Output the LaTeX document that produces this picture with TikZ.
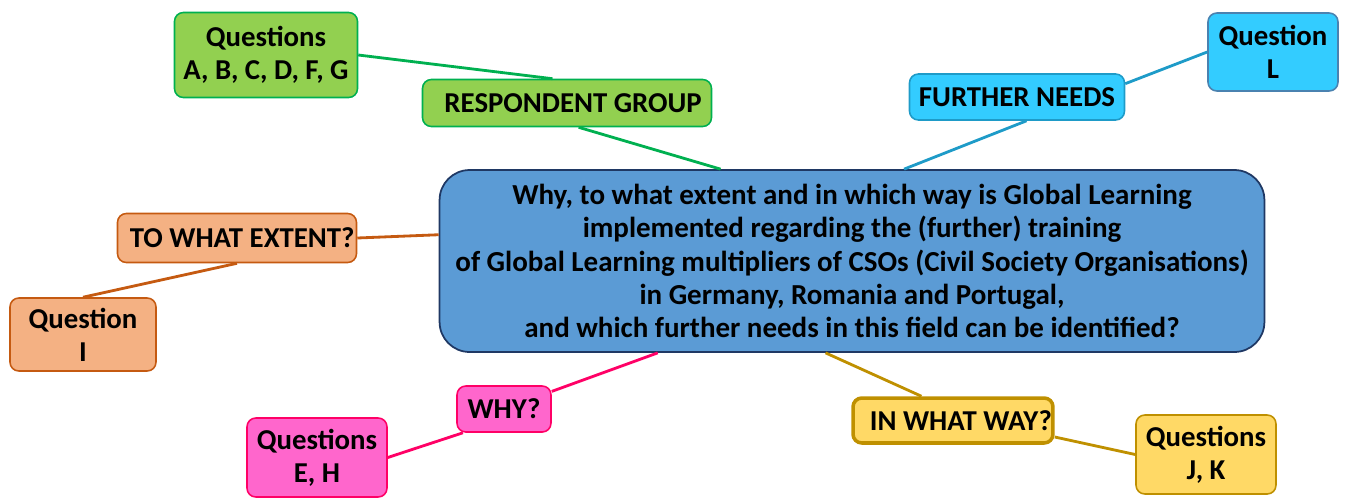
\documentclass[tikz,border=0pt]{standalone}
\usepackage{fontspec}
\setmainfont{Carlito}
\usetikzlibrary{calc}
\definecolor{grnfill}{HTML}{92D050}
\definecolor{grnline}{HTML}{00B050}
\definecolor{cyanfill}{HTML}{33CCFF}
\definecolor{cyanline}{HTML}{1E9BC8}
\definecolor{cyanedge}{HTML}{4A82B0}
\definecolor{mainfill}{HTML}{5B9BD5}
\definecolor{mainline}{HTML}{1F3864}
\definecolor{orgfill}{HTML}{F4B183}
\definecolor{orgline}{HTML}{C55A11}
\definecolor{pinkfill}{HTML}{FF66CC}
\definecolor{pinkline}{HTML}{FF0066}
\definecolor{goldfill}{HTML}{FFD966}
\definecolor{goldline}{HTML}{BF9000}
\begin{document}
\begin{tikzpicture}[x=0.02cm, y=-0.02cm, line width=1.6pt,
	box/.style={draw, rounded corners=5pt, align=center, inner sep=0pt,
		font=\bfseries\fontsize{16.4}{18.8}\selectfont},
	grnbox/.style={box, fill=grnfill, draw=grnline, line width=0.9pt},
	cyanbox/.style={box, fill=cyanfill, draw=cyanline, line width=0.9pt},
	orgbox/.style={box, fill=orgfill, draw=orgline, line width=0.9pt},
	pinkbox/.style={box, fill=pinkfill, draw=pinkline, line width=0.9pt},
	goldbox/.style={box, fill=goldfill, draw=goldline, line width=0.9pt}]
	\useasboundingbox (0,0) rectangle (1346,498);
	% central question
	\node (Q) at (852,261) [box, fill=mainfill, draw=mainline, line width=1pt, rounded corners=0.6cm,
		minimum width=16.5cm, minimum height=3.64cm, font=\bfseries\fontsize{16.5}{18.9}\selectfont]
		{Why, to what extent and in which way is Global Learning\\
		 implemented regarding the (further) training\\
		 of Global Learning multipliers of CSOs (Civil Society Organisations)\\
		 in Germany, Romania and Portugal,\\
		 and which further needs in this field can be identified?};
	% branches
	\node (RG)  at (567,103)   [grnbox, minimum width=5.78cm, minimum height=0.94cm] {\hspace{7pt}RESPONDENT GROUP};
	\node (QA)  at (266,55)    [grnbox, minimum width=3.66cm, minimum height=1.70cm] {Questions\\A, B, C, D, F, G};
	\node (FN)  at (1017,97)   [cyanbox, minimum width=4.30cm, minimum height=0.92cm] {FURTHER NEEDS};
	\node (QL)  at (1273,52)   [cyanbox, draw=cyanedge, minimum width=2.60cm, minimum height=1.56cm] {Question\\L};
	\node (TE)  at (237,238)   [orgbox, minimum width=4.78cm, minimum height=0.98cm] {\hspace{6pt}TO WHAT EXTENT?};
	\node (QI)  at (83,334.5)  [orgbox, minimum width=2.92cm, minimum height=1.46cm] {Question\\I};
	\node (WH)  at (504,409)   [pinkbox, minimum width=1.88cm, minimum height=0.92cm] {WHY?};
	\node (QEH) at (317,457.5) [pinkbox, minimum width=2.80cm, minimum height=1.58cm] {Questions\\E, H};
	\node (WW)  at (953,420.5) [goldbox, line width=2pt, minimum width=4.00cm, minimum height=0.90cm] {\hspace{9pt}IN WHAT WAY?};
	\node (QJK) at (1206,454.5)[goldbox, minimum width=2.80cm, minimum height=1.58cm] {Questions\\J, K};
	% connectors
	\draw[grnline] (QA.east) -- ($(RG.north west)!0.45!(RG.north east)$);
	\draw[grnline] ($(RG.south west)!0.54!(RG.south east)$) -- ($(Q.north west)!0.341!(Q.north east)$);
	\draw[cyanline] ($(FN.north east)!0.22!(FN.south east)$) -- (QL.west);
	\draw[cyanline] ($(FN.south west)!0.544!(FN.south east)$) -- ($(Q.north west)!0.563!(Q.north east)$);
	\draw[orgline] (TE.east) -- ($(Q.north west)!0.357!(Q.south west)$);
	\draw[orgline] (TE.south) -- (QI.north);
	\draw[pinkline] ($(Q.south west)!0.265!(Q.south east)$) -- ($(WH.north east)!0.13!(WH.south east)$);
	\draw[pinkline] ($(WH.south west)!0.07!(WH.south east)$) -- (QEH.east);
	\draw[goldline] ($(Q.south west)!0.468!(Q.south east)$) -- ($(WW.north west)!0.345!(WW.north east)$);
	\draw[goldline] ($(WW.north east)!0.84!(WW.south east)$) -- (QJK.west);
\end{tikzpicture}
\end{document}
